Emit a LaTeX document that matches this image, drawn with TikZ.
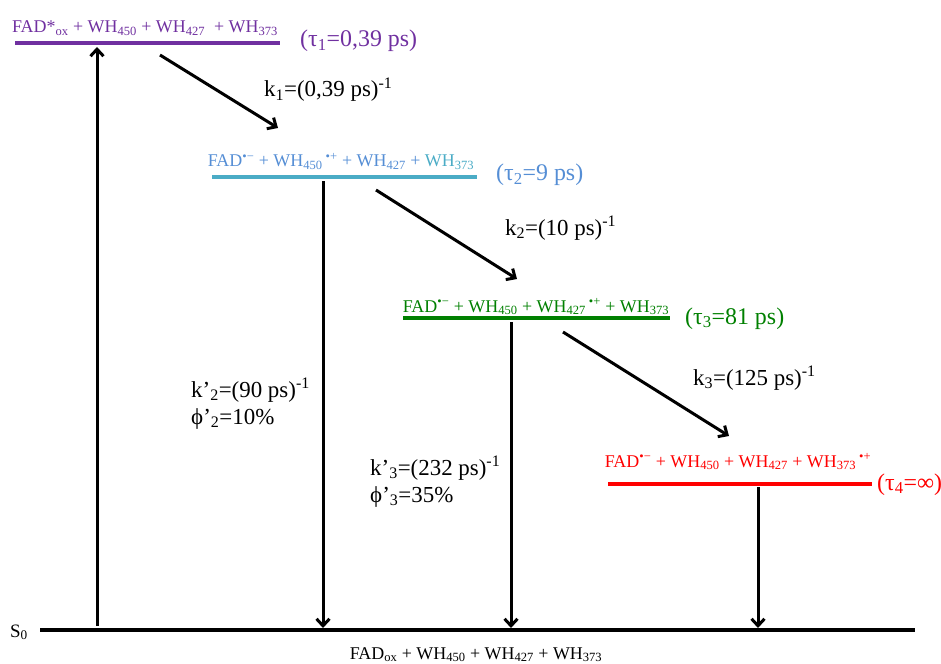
\documentclass[tikz,border=0pt]{standalone}
\usepackage{fontspec}
\setmainfont{Liberation Serif}
\usetikzlibrary{arrows.meta}
\definecolor{s1purple}{RGB}{112, 48, 160}
\definecolor{s2blue}{RGB}{85, 142, 213}
\definecolor{s2line}{RGB}{75, 172, 198}
\definecolor{s3green}{RGB}{0, 128, 0}
\definecolor{s4red}{RGB}{255, 0, 0}

\begin{document}
\begin{tikzpicture}[
    x=1bp, y=-1bp,
    level/.style={line width=3.8bp},
    decay/.style={line width=3bp, -{Straight Barb[length=7bp, width=13bp, line width=3bp]}},
    state/.style={anchor=base, inner sep=0pt, font=\fontsize{18}{21}\selectfont},
    rate/.style={anchor=base west, inner sep=0pt, font=\fontsize{23}{26}\selectfont},
    life/.style={anchor=base west, inner sep=0pt, font=\fontsize{24}{28}\selectfont}
]
    \useasboundingbox (0,0) rectangle (941,664);

    % Levels
    \coordinate (s1l) at (15, 43);   \coordinate (s1r) at (280, 43);
    \coordinate (s2l) at (212, 177); \coordinate (s2r) at (477, 177);
    \coordinate (s3l) at (403, 318); \coordinate (s3r) at (670, 318);
    \coordinate (s4l) at (608, 484); \coordinate (s4r) at (872, 484);
    \coordinate (s0l) at (40, 630);  \coordinate (s0r) at (915, 630);

    \draw[level, s1purple] (s1l) -- (s1r);
    \draw[level, s2line]   (s2l) -- (s2r);
    \draw[level, s3green]  (s3l) -- (s3r);
    \draw[level, s4red]    (s4l) -- (s4r);
    \draw[level, black]    (s0l) -- (s0r);

    % Excitation
    \coordinate (exbot) at (97, 626);
    \coordinate (extop) at (97, 47);
    \draw[decay] (exbot) -- (extop);

    % Forward steps
    \coordinate (k1a) at (160, 55);  \coordinate (k1b) at (278, 128);
    \coordinate (k2a) at (376, 190); \coordinate (k2b) at (517, 279);
    \coordinate (k3a) at (563, 332); \coordinate (k3b) at (729, 436);
    \draw[decay] (k1a) -- (k1b);
    \draw[decay] (k2a) -- (k2b);
    \draw[decay] (k3a) -- (k3b);

    % Back to ground state
    \coordinate (r2a) at (323, 181); \coordinate (r2b) at (323, 628);
    \coordinate (r3a) at (511, 322); \coordinate (r3b) at (511, 628);
    \coordinate (r4a) at (758, 487); \coordinate (r4b) at (758, 628);
    \draw[decay] (r2a) -- (r2b);
    \draw[decay] (r3a) -- (r3b);
    \draw[decay] (r4a) -- (r4b);

    % State labels
    \node[state, s1purple] (st1) at (145, 33)
        {FAD*\textsubscript{ox} + WH\textsubscript{450} + WH\textsubscript{427} \ + WH\textsubscript{373}};
    \node[state, s2blue] (st2) at (341, 167)
        {FAD\textsuperscript{•−} + WH\textsubscript{450}\,\textsuperscript{•+} + WH\textsubscript{427} + \textcolor{s2line}{WH\textsubscript{373}}};
    \node[state, s3green] (st3) at (536, 312)
        {FAD\textsuperscript{•−} + WH\textsubscript{450} + WH\textsubscript{427}\,\textsuperscript{•+} + WH\textsubscript{373}};
    \node[state, s4red] (st4) at (738, 467)
        {FAD\textsuperscript{•−} + WH\textsubscript{450} + WH\textsubscript{427} + WH\textsubscript{373}\,\textsuperscript{•+}};
    \node[state, black] (st0) at (476, 659)
        {FAD\textsubscript{ox} + WH\textsubscript{450} + WH\textsubscript{427} + WH\textsubscript{373}};
    \node[anchor=base west, inner sep=0pt, font=\fontsize{19}{22}\selectfont] (s0) at (10, 637) {S\textsubscript{0}};

    % Lifetimes
    \node[life, s1purple] (tau1) at (300, 47) {(τ\textsubscript{1}=0,39 ps)};
    \node[life, s2blue]   (tau2) at (496, 181) {(τ\textsubscript{2}=9 ps)};
    \node[life, s3green]  (tau3) at (685, 324) {(τ\textsubscript{3}=81 ps)};
    \node[life, s4red]    (tau4) at (877, 490) {(τ\textsubscript{4}=∞)};

    % Rates
    \node[rate] (k1) at (264, 97)  {k\textsubscript{1}=(0,39 ps)\textsuperscript{-1}};
    \node[rate] (k2) at (505, 235) {k\textsubscript{2}=(10 ps)\textsuperscript{-1}};
    \node[rate] (k3) at (693, 385) {k\textsubscript{3}=(125 ps)\textsuperscript{-1}};
    \node[rate] (kp2) at (191, 397) {k’\textsubscript{2}=(90 ps)\textsuperscript{-1}};
    \node[rate] (phi2) at (191, 424) {ϕ’\textsubscript{2}=10\%};
    \node[rate] (kp3) at (370, 475) {k’\textsubscript{3}=(232 ps)\textsuperscript{-1}};
    \node[rate] (phi3) at (370, 502) {ϕ’\textsubscript{3}=35\%};

\end{tikzpicture}
\end{document}
